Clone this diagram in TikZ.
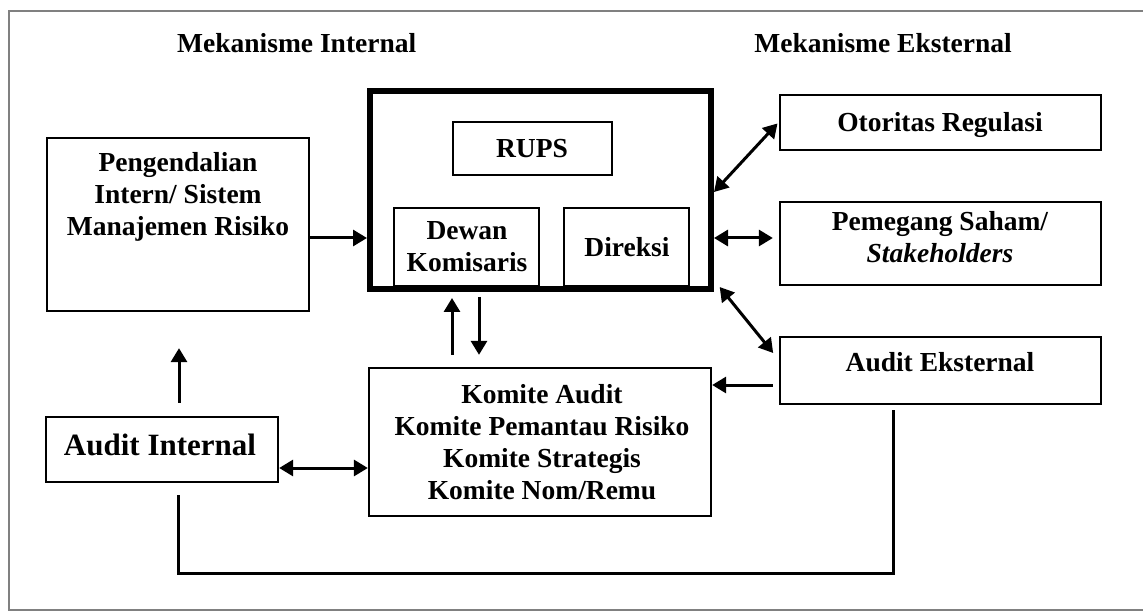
\documentclass[tikz,border=0pt]{standalone}
\usepackage{fontspec}
\setmainfont{Liberation Serif}
\usetikzlibrary{arrows.meta}
\newcommand\mlines[1]{\begin{tabular}[t]{@{}c@{}}#1\end{tabular}}
\begin{document}
\begin{tikzpicture}[x=1pt,y=-1pt,
  boxs/.style 2 args={draw, line width=2.3pt, inner sep=0pt, minimum width=#1, minimum height=#2},
  lbl/.style={inner sep=0pt, anchor=base, font=\bfseries\fontsize{27.5}{32}\selectfont},
  hd/.style={inner sep=0pt, font=\bfseries\fontsize{27.5}{32}\selectfont},
  tipa/.tip={Triangle[length=14pt,width=16pt]},
  arr/.style={line width=3pt, -tipa},
  darr/.style={line width=3pt, tipa-tipa},
  conn/.style={line width=3pt}
]
\useasboundingbox (0,0) rectangle (1143,612);
% outer frame
\draw[line width=2.2pt, color=black!50] (1150,11) -- (9,11) -- (9,610) -- (1150,610);

% headings
\node[hd, anchor=base west] (hint) at (177,53) {Mekanisme Internal};
\node[hd, anchor=base east] (hext) at (1012,53) {Mekanisme Eksternal};

% boxes
\node[boxs={262}{173}] (peng) at (178,224.5) {};
\node[draw, line width=6pt, inner sep=0pt, minimum width=341, minimum height=198] (core) at (540.5,190) {};
\node[boxs={159}{53}] (rups) at (532.5,148.5) {};
\node[boxs={145}{78}] (dewan) at (466.5,247) {};
\node[boxs={125}{78}] (direksi) at (626.5,247) {};
\node[boxs={321}{55}] (otoritas) at (940.5,122.5) {};
\node[boxs={321}{83}] (pemegang) at (940.5,243.5) {};
\node[boxs={321}{67}] (audext) at (940.5,370.5) {};
\node[boxs={342}{148}] (komite) at (540,442) {};
\node[boxs={232}{65}] (audint) at (162,449.5) {};

% texts
\node[lbl] (pengt) at (178,172) {\mlines{Pengendalian\\Intern/ Sistem\\Manajemen Risiko}};
\node[lbl] (rupst) at (532,158) {RUPS};
\node[lbl] (dewant) at (467,240) {\mlines{Dewan\\Komisaris}};
\node[lbl] (direksit) at (627,257) {Direksi};
\node[lbl] (otorit) at (940,132) {Otoritas Regulasi};
\node[lbl] (pemt) at (940,231) {\mlines{Pemegang Saham/\\\textit{Stakeholders}}};
\node[lbl] (aext) at (940,371) {Audit Eksternal};
\node[lbl] (komt) at (542,403) {\mlines{Komite Audit\\Komite Pemantau Risiko\\Komite Strategis\\Komite Nom/Remu}};
\node[lbl, font=\bfseries\fontsize{31}{36}\selectfont] (aint) at (160,455) {Audit Internal};

% connectors
\draw[arr] (peng.east |- 0,238) -- (core.west |- 0,238);
\draw[darr, shorten >=2pt] (core.east |- 0,192) -- (otoritas.west |- 0,122);
\draw[darr, shorten >=6pt] (core.east |- 0,238) -- (pemegang.west |- 0,238);
\draw[darr, shorten <=9pt, shorten >=9pt] (core.east |- 0,280) -- (audext.west |- 0,360);
\draw[arr, shorten <=6pt] (audext.west |- 0,385) -- (komite.east |- 0,385);
\draw[darr] (audint.east |- 0,468) -- (komite.west |- 0,468);
\draw[arr, shorten <=12pt, shorten >=6pt] (komite.north -| 452,0) -- (core.south -| 452,0);
\draw[arr, shorten <=5pt, shorten >=12pt] (core.south -| 479,0) -- (komite.north -| 479,0);
\draw[arr, shorten <=13pt, shorten >=36pt] (audint.north -| 179,0) -- (peng.south -| 179,0);
\coordinate (bl) at (178,573);
\coordinate (br) at (893,573);
\draw[conn, shorten <=12pt, shorten >=5pt] (audint.south -| bl) -- (bl) -- (br) -- (audext.south -| br);
\end{tikzpicture}
\end{document}
